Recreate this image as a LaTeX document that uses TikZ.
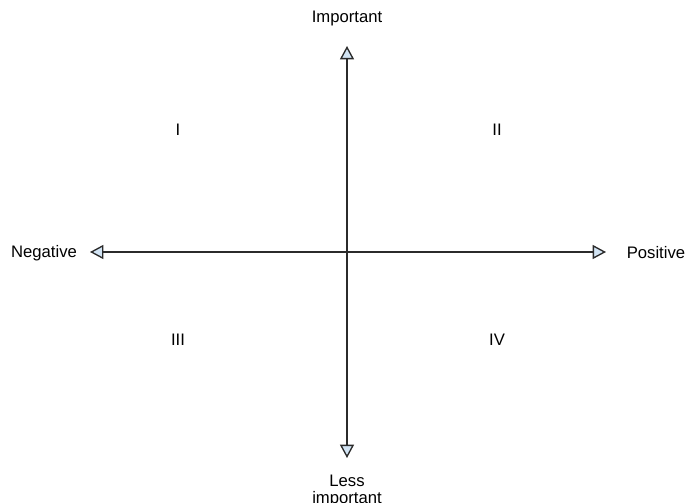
\documentclass[tikz,border=0pt]{standalone}
\usepackage{fontspec}
\setmainfont{Liberation Sans}
\usepackage{xcolor}
\usepackage{tikz}
\usetikzlibrary{positioning,arrows.meta}

\definecolor{tipfill}{HTML}{D2E4F4}
\definecolor{axisgray}{HTML}{2B2B2B}

\begin{document}
\begin{tikzpicture}[
  x=0.75pt, y=-0.75pt,
  font=\fontsize{12.5}{12.5}\selectfont,
  axis/.style={draw=axisgray, line width=1.1pt,
    {Triangle[length=10pt, width=10.5pt, fill=tipfill, line width=1pt]}-{Triangle[length=10pt, width=10.5pt, fill=tipfill, line width=1pt]}},
  lbl/.style={inner sep=0pt, align=center},
  quad/.style={inner sep=0pt}
]
  \useasboundingbox (0,0) rectangle (685,503);
  % axis ends
  \coordinate (top) at (347,46);
  \coordinate (bottom) at (347,458);
  \coordinate (left) at (90,252);
  \coordinate (right) at (606,252);
  \draw[axis] (left) -- (right);
  \draw[axis] (bottom) -- (top);
  % axis labels
  \node[lbl] (important) at (347,18) {Important};
  \node[lbl] (less) at (347,491) {Less\\important};
  \node[lbl] (negative) at (44,253) {Negative};
  \node[lbl] (positive) at (656,253) {Positive};
  % quadrants
  \node[quad] (q1) at (178,130) {I};
  \node[quad] (q2) at (497,130) {II};
  \node[quad] (q3) at (178,340) {III};
  \node[quad] (q4) at (497,340) {IV};
\end{tikzpicture}
\end{document}
